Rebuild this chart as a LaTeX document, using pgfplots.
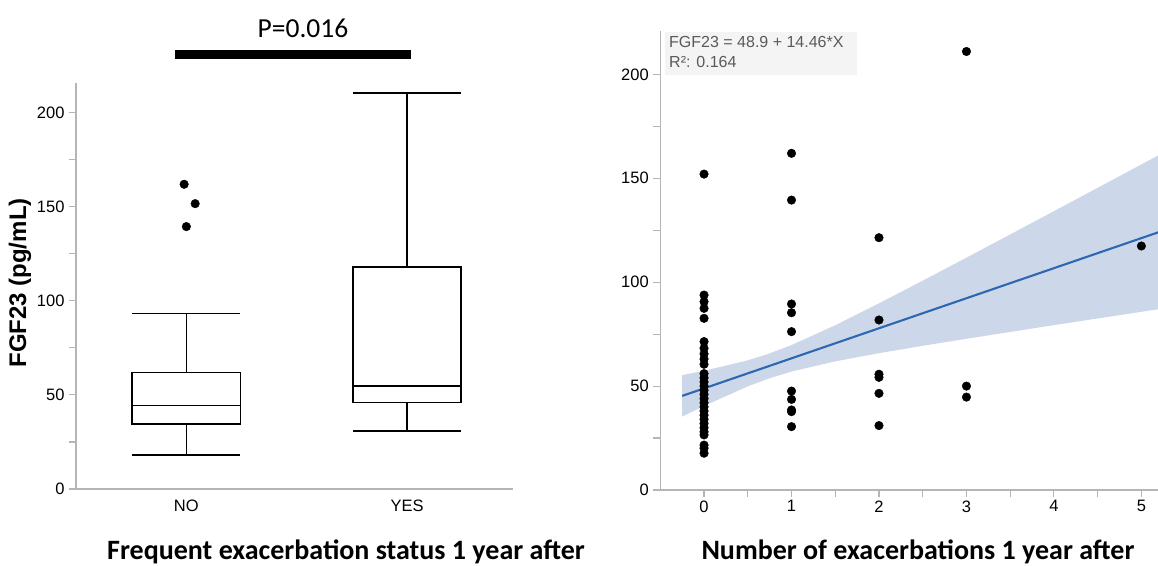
\documentclass[border=0pt]{standalone}
\usepackage{fontspec}
\setmainfont{Liberation Sans}
\newfontfamily\calibri{Carlito}
\usepackage{pgfplots}
\pgfplotsset{compat=1.18}
\definecolor{axgray}{HTML}{B5B5B5}
\definecolor{fitblue}{HTML}{2E67B1}
\definecolor{bandblue}{HTML}{CDD7EA}
\definecolor{boxtext}{HTML}{5A5A5A}
\definecolor{boxbg}{HTML}{F4F4F4}
\pgfplotsset{
 common/.style={
  scale only axis,
  axis x line*=bottom, axis y line*=left,
  axis line style={axgray, line width=1.4pt, -},
  every outer x axis line/.append style={-},
  every outer y axis line/.append style={-},
  tick style={axgray, line width=1.1pt},
  major tick length=7pt, minor tick length=7pt,
  tick align=outside,
  ticklabel style={font=\fontsize{16.5}{19}\selectfont, text=black},
  yticklabel style={xshift=-1pt},
  /pgf/number format/assume math mode=true,
 },
 bx/.style={draw=black, line width=1.6pt, solid, line cap=butt, line join=miter}
}
% box statistics: position, lower whisker, Q1, median, Q3, upper whisker
\begin{document}
\begin{tikzpicture}[x=1pt,y=1pt]
\path[use as bounding box] (0,0) rectangle (1158,565);
% ---------- left panel ----------
\begin{axis}[common, at={(76pt,76pt)}, anchor=south west,
  width=437pt, height=406.3pt, clip=false,
  xmin=-0.5, xmax=1.48, ymin=0, ymax=216,
  xtick={0,1}, xticklabels={NO,YES}, major x tick style={draw=none},
  ytick={0,50,100,150,200}, minor ytick={25,75,125,175}]
% NO: whiskers 18.1 / 93.3, quartiles 34.4 / 61.9, median 44.4
\addplot[bx] coordinates {(0,18.1) (0,34.4)};
\addplot[bx] coordinates {(0,61.9) (0,93.3)};
\addplot[bx] coordinates {(-0.245,18.1) (0.245,18.1)};
\addplot[bx] coordinates {(-0.245,93.3) (0.245,93.3)};
\addplot[bx] coordinates {(-0.245,34.4) (0.245,34.4) (0.245,61.9) (-0.245,61.9)} -- cycle;
\addplot[bx] coordinates {(-0.245,44.4) (0.245,44.4)};
% YES: whiskers 30.9 / 210.6, quartiles 46 / 118, median 54.7
\addplot[bx] coordinates {(1,30.9) (1,46)};
\addplot[bx] coordinates {(1,118) (1,210.6)};
\addplot[bx] coordinates {(0.755,30.9) (1.245,30.9)};
\addplot[bx] coordinates {(0.755,210.6) (1.245,210.6)};
\addplot[bx] coordinates {(0.755,46) (1.245,46) (1.245,118) (0.755,118)} -- cycle;
\addplot[bx] coordinates {(0.755,54.7) (1.245,54.7)};
% outliers
\addplot[only marks, mark=*, mark size=4.3pt, black] coordinates {(-0.01,162) (0.04,151.7) (0,139.5)};
\end{axis}
% ---------- right panel ----------
\begin{axis}[common, at={(660.3pt,75pt)}, anchor=south west,
  width=497.7pt, height=459.3pt, clip=true,
  xmin=-0.5, xmax=5.19, ymin=0, ymax=221,
  xtick={0,1,2,3,4,5}, minor xtick={0.5,1.5,2.5,3.5,4.5},
  ytick={0,50,100,150,200}, minor ytick={25,75,125,175}]
\addplot[fill=bandblue, draw=none] coordinates {
 (-0.25,55.3) (0,57.35) (0.5,62.39) (0.73,65.43) (1,69.73) (1.5,79.27) (2,89.81)
 (2.5,100.72) (3,111.80) (3.5,122.96) (4,134.16) (4.5,145.40) (5,156.66) (5.2,161.16)
 (5.2,87.02) (5,85.74) (4.5,82.54) (4,79.32) (3.5,76.06) (3,72.76) (2.5,69.38)
 (2,65.83) (1.5,61.91) (1,56.99) (0.73,53.49) (0.5,49.87) (0,40.45) (-0.25,35.3)} -- cycle;
\addplot[fitblue, line width=2.1pt] coordinates {(-0.25,45.28) (5.2,124.09)};
\addplot[only marks, mark=*, mark size=4.3pt, black] coordinates {
 (0,152) (0,93.8) (0,90.6) (0,87.4) (0,82.6) (0,71.4) (0,68.2) (0,65.5) (0,63) (0,60.5)
 (0,56) (0,54) (0,52) (0,50) (0,48) (0,46) (0,44) (0,42) (0,40) (0,38) (0,36)
 (0,34) (0,32) (0,30) (0,28) (0,26.5) (0,21.6) (0,20.1) (0,17.7)
 (1,162) (1,139.5) (1,89.5) (1,85.3) (1,76.2) (1,47.6) (1,43.6) (1,38.5) (1,37.7) (1,30.5)
 (2,121.4) (2,81.8) (2,55.7) (2,54.2) (2,46.5) (2,31)
 (3,211) (3,50) (3,44.7)
 (5,117.4)};
\end{axis}
% annotations
\fill[boxbg] (665,490) rectangle (857,533);
\node[anchor=west, text=boxtext, font=\fontsize{16}{19}\selectfont, inner sep=0pt] at (669,523) {FGF23 = 48.9 + 14.46*X};
\node[anchor=west, text=boxtext, font=\fontsize{16}{19}\selectfont, inner sep=0pt] at (669,503) {R²: 0.164};
\fill[black] (175,506) rectangle (411,515);
\node[font=\calibri\fontsize{27.5}{32}\selectfont] at (303,537) {P=0.016};
\node[font=\calibri\bfseries\fontsize{28}{32}\selectfont] at (346,13) {Frequent exacerbation status 1 year after};
\node[font=\calibri\bfseries\fontsize{28}{32}\selectfont] at (918,13) {Number of exacerbations 1 year after};
\node[rotate=90, font=\bfseries\fontsize{24}{28}\selectfont] at (20,282) {FGF23 (pg/mL)};
\end{tikzpicture}
\end{document}
